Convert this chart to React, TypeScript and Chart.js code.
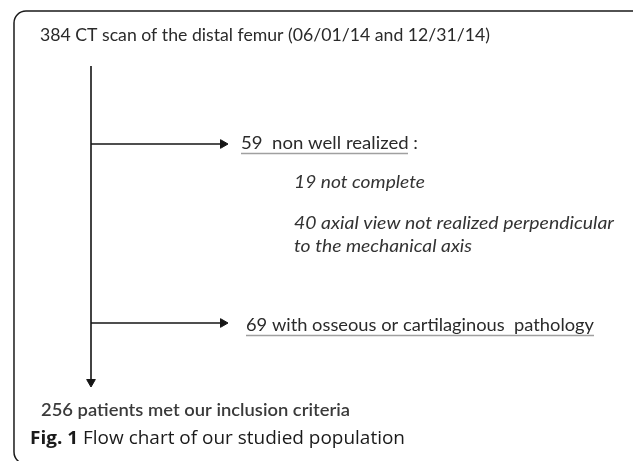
import React, { useEffect, useRef } from "react";
import { Chart, registerables } from "chart.js";
Chart.register(...registerables);

// ---- data ----
const totalCount = 384;
const totalLabel = "CT scan of the distal femur (06/01/14 and 12/31/14)";
const excludedCounts = [59, 69];
const excludedLabels = ["non well realized", "with osseous or cartilaginous  pathology"];
const subCounts = [19, 40];
const subLabels = ["not complete", "axial view not realized perpendicular"];
const subLabelContinuation = "to the mechanical axis";
const finalCount = 256;
const finalLabel = "patients met our inclusion criteria";
const captionBold = "Fig. 1";
const captionText = "Flow chart of our studied population";

// ---- layout (scale units = page pixels) ----
const W = 633;
const H = 461;
const SPINE_X = 91;
const SPINE_TOP = 66;
const SPINE_TIP = 387;
const BRANCH_Y = [144, 323];
const BRANCH_TIP = 228;
const HEAD_R = 5;

type TextItem = {
  text: string;
  x: number;
  y: number;
  right: number;
  family: string;
  size: number;
  weight: string;
  style: string;
  color: string;
  underlineTo?: number;
};

const texts: TextItem[] = [
  { text: `${totalCount} ${totalLabel}`, x: 40, y: 35, right: 490, family: "Lato", size: 17.5, weight: "400", style: "normal", color: "#2a2a2a" },
  { text: `${excludedCounts[0]}  ${excludedLabels[0]} :`, x: 241, y: 143, right: 418, family: "Lato", size: 17.5, weight: "400", style: "normal", color: "#2a2a2a", underlineTo: 408 },
  { text: `${subCounts[0]} ${subLabels[0]}`, x: 294, y: 182, right: 425, family: "Lato", size: 17.5, weight: "400", style: "italic", color: "#333" },
  { text: `${subCounts[1]} ${subLabels[1]}`, x: 294, y: 223, right: 614, family: "Lato", size: 17.5, weight: "400", style: "italic", color: "#333" },
  { text: subLabelContinuation, x: 294, y: 246, right: 472, family: "Lato", size: 17.5, weight: "400", style: "italic", color: "#333" },
  { text: `${excludedCounts[1]} ${excludedLabels[1]}`, x: 246, y: 325, right: 594, family: "Lato", size: 17.5, weight: "400", style: "normal", color: "#2a2a2a", underlineTo: 594 },
  { text: `${finalCount} ${finalLabel}`, x: 41, y: 411, right: 350, family: "Lato", size: 17, weight: "600", style: "normal", color: "#3a3a3a" },
];

function drawFitted(ctx: CanvasRenderingContext2D, text: string, font: string, x: number, y: number, targetW: number) {
  ctx.font = font;
  const w = ctx.measureText(text).width;
  const sx = targetW / w;
  ctx.save();
  ctx.translate(x, y);
  ctx.scale(sx, 1);
  ctx.fillText(text, 0, 0);
  ctx.restore();
}

const flowPlugin = {
  id: "flowText",
  beforeDraw(chart: any) {
    const ctx: CanvasRenderingContext2D = chart.ctx;
    ctx.save();
    ctx.fillStyle = "#fff";
    ctx.fillRect(0, 0, chart.width, chart.height);
    ctx.strokeStyle = "#1a1a1a";
    ctx.lineWidth = 1.5;
    ctx.beginPath();
    (ctx as any).roundRect(14, 11, 634, 453, 12);
    ctx.stroke();
    ctx.restore();
  },
  afterDraw(chart: any) {
    const ctx: CanvasRenderingContext2D = chart.ctx;
    const xs = chart.scales.x;
    const ys = chart.scales.y;
    ctx.save();
    ctx.textBaseline = "middle";
    ctx.textAlign = "left";
    for (const t of texts) {
      const px = xs.getPixelForValue(t.x);
      const py = ys.getPixelForValue(t.y);
      const pr = xs.getPixelForValue(t.right);
      ctx.fillStyle = t.color;
      drawFitted(ctx, t.text, `${t.style} ${t.weight} ${t.size}px ${t.family}`, px, py, pr - px);
      if (t.underlineTo !== undefined) {
        ctx.strokeStyle = "#a0a0a0";
        ctx.lineWidth = 1.4;
        ctx.beginPath();
        const uy = Math.round(py + 10) + 0.5;
        ctx.moveTo(px, uy);
        ctx.lineTo(xs.getPixelForValue(t.underlineTo), uy);
        ctx.stroke();
      }
    }
    // caption with bold prefix
    const cx = xs.getPixelForValue(30);
    const cy = ys.getPixelForValue(439);
    const cRight = xs.getPixelForValue(405);
    const size = 18.5;
    const boldFont = `700 ${size}px "Open Sans"`;
    const regFont = `400 ${size}px "Open Sans"`;
    ctx.font = boldFont;
    const wb = ctx.measureText(captionBold + " ").width;
    ctx.font = regFont;
    const wr = ctx.measureText(captionText).width;
    const sx = (cRight - cx) / (wb + wr);
    ctx.fillStyle = "#1a1a1a";
    ctx.save();
    ctx.translate(cx, cy);
    ctx.scale(sx, 1);
    ctx.font = boldFont;
    ctx.fillText(captionBold + " ", 0, 0);
    ctx.font = regFont;
    ctx.fillText(captionText, wb, 0);
    ctx.restore();
    ctx.restore();
  },
};

export default function App() {
  const ref = useRef<HTMLCanvasElement | null>(null);
  useEffect(() => {
    if (!ref.current) return;
    const lineColor = "#151515";
    const lineDs = (pts: { x: number; y: number }[]) => ({
      type: "line" as const,
      data: pts,
      borderColor: lineColor,
      borderWidth: 1.6,
      pointRadius: 0,
      fill: false,
      tension: 0,
    });
    const chart = new Chart(ref.current, {
      type: "scatter",
      data: {
        datasets: [
          lineDs([
            { x: SPINE_X, y: SPINE_TOP },
            { x: SPINE_X, y: SPINE_TIP - HEAD_R },
          ]),
          ...BRANCH_Y.map((by) =>
            lineDs([
              { x: SPINE_X, y: by },
              { x: BRANCH_TIP - HEAD_R, y: by },
            ])
          ),
          {
            type: "scatter" as const,
            data: [
              ...BRANCH_Y.map((by) => ({ x: BRANCH_TIP - HEAD_R, y: by })),
              { x: SPINE_X, y: SPINE_TIP - HEAD_R },
            ],
            pointStyle: "triangle",
            rotation: [90, 90, 180],
            pointRadius: HEAD_R,
            backgroundColor: lineColor,
            borderColor: lineColor,
            borderWidth: 1,
          },
        ] as any,
      },
      options: {
        animation: false,
        responsive: false,
        events: [],
        layout: { padding: 0, autoPadding: false },
        plugins: { legend: { display: false }, tooltip: { enabled: false } },
        scales: {
          x: { type: "linear", min: 0, max: W, display: false },
          y: { type: "linear", min: 0, max: H, reverse: true, display: false },
        },
      },
      plugins: [flowPlugin],
    });
    return () => chart.destroy();
  }, []);
  return (
    <div style={{ position: "absolute", left: 0, top: 0, width: W, height: H, background: "#fff" }}>
      <canvas ref={ref} width={W} height={H} style={{ display: "block" }} />
    </div>
  );
}
